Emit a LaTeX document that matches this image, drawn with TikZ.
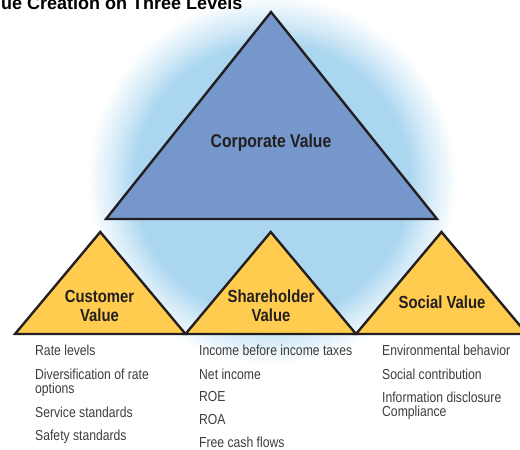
\documentclass[tikz,border=0pt]{standalone}
\usepackage{fontspec}
\setmainfont{Liberation Sans}
\newfontfamily\labelfont[FakeStretch=0.85]{Liberation Sans}
\newfontfamily\listfont[FakeStretch=0.84]{Liberation Sans}

\definecolor{edgeink}{RGB}{35,31,32}
\definecolor{corpblue}{RGB}{117,151,203}
\definecolor{valueyellow}{RGB}{255,204,79}
\definecolor{halo}{RGB}{170,214,240}
\definecolor{listgray}{RGB}{60,60,60}

% soft halo behind the pyramid, sized in real units
\pgfdeclareradialshading{haloshade}{\pgfpoint{0bp}{0bp}}{%
  color(0bp)=(halo); color(136bp)=(halo); color(158bp)=(halo!50!white);
  color(184bp)=(white); color(200bp)=(white)}

\tikzset{
  tri/.style={draw=edgeink, line width=2.4pt, line join=miter},
  bigtri/.style={tri, fill=corpblue},
  smalltri/.style={tri, fill=valueyellow},
  vlabel/.style={inner sep=0pt, text=edgeink, align=center,
    font=\labelfont\bfseries\fontsize{17.5}{19.7}\selectfont},
  item/.style={inner sep=0pt, anchor=base west, text=listgray, align=left,
    font=\listfont\fontsize{14.5}{14.3}\selectfont},
  heading/.style={inner sep=0pt, anchor=base west, text=black,
    font=\bfseries\fontsize{18}{20}\selectfont}
}

\begin{document}
\begin{tikzpicture}[x=1pt, y=-1pt]
\useasboundingbox (0,0) rectangle (520,450);
\begin{scope}
\clip (0,0) rectangle (520,450);

% halo
\node[inner sep=0pt, outer sep=0pt] (halo) at (272,180) {\pgfuseshading{haloshade}};

% corporate level
\coordinate (ctop) at (271,12);
\coordinate (cleft) at (106,219);
\coordinate (cright) at (437,219);
\draw[bigtri] (ctop) -- (cleft) -- (cright) -- cycle;

% three value levels
\coordinate (b0) at (15,334);
\coordinate (b1) at (185.5,334);
\coordinate (b2) at (356,334);
\coordinate (b3) at (527,334);
\coordinate (t1) at (100.25,232);
\coordinate (t2) at (270.75,232);
\coordinate (t3) at (441.5,232);
\draw[smalltri] (b0) -- (t1) -- (b1) -- cycle;
\draw[smalltri] (b1) -- (t2) -- (b2) -- cycle;
\draw[smalltri] (b2) -- (t3) -- (b3) -- cycle;

% heading
\node[heading] (title) at (-25,9) {Value Creation on Three Levels};

% level labels (base anchor sits on the last line)
\node[vlabel, anchor=base, font=\labelfont\bfseries\fontsize{18.5}{20}\selectfont] (corp) at (271,147.3) {Corporate Value};
\node[vlabel, anchor=base] (cust) at (99.5,321.7) {Customer\\Value};
\node[vlabel, anchor=base] (share) at (271,321.7) {Shareholder\\Value};
\node[vlabel, anchor=base] (soc) at (442,308.3) {Social Value};

% indicators
\node[item] (c1) at (35,355.7) {Rate levels};
\node[item] (c2) at (35,393.3) {Diversification of rate\\options};
\node[item] (c3) at (35,417) {Service standards};
\node[item] (c4) at (35,440) {Safety standards};

\node[item] (s1) at (199,355.7) {Income before income taxes};
\node[item] (s2) at (199,379) {Net income};
\node[item] (s3) at (199,401.7) {ROE};
\node[item] (s4) at (199,424.3) {ROA};
\node[item] (s5) at (199,447.7) {Free cash flows};

\node[item] (e1) at (382,355.7) {Environmental behavior};
\node[item] (e2) at (382,379) {Social contribution};
\node[item] (e3) at (382,416.7) {Information disclosure\\Compliance};
\end{scope}
\end{tikzpicture}
\end{document}
